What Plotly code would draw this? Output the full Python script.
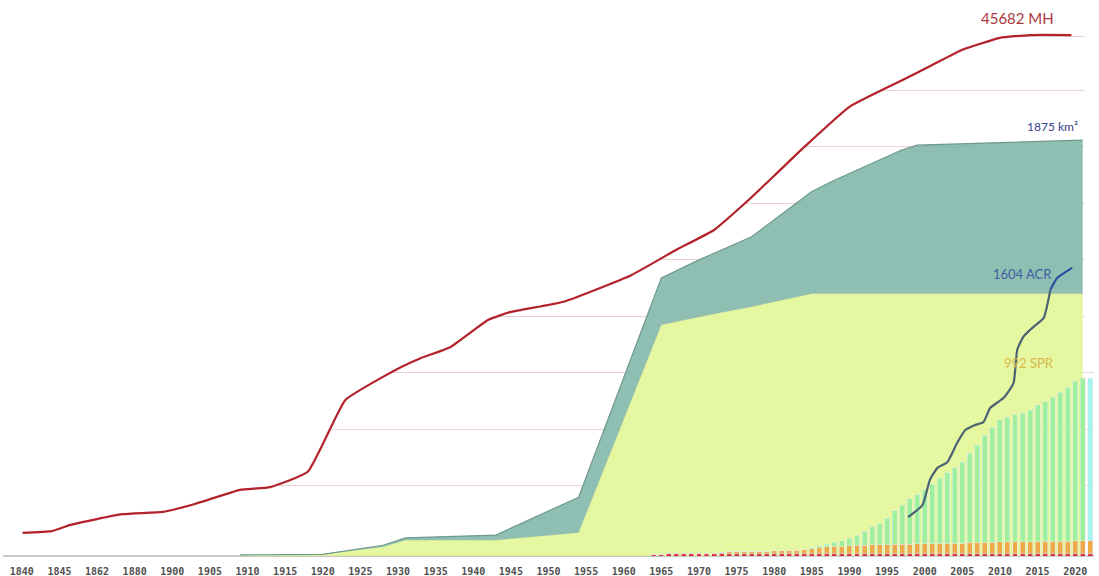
import numpy as np
import plotly.graph_objects as go

# x axis labels (evenly spaced, irregular years at the start)
TICK_YEARS = [1840, 1845, 1862, 1880, 1900, 1905, 1910, 1915, 1920, 1925, 1930,
              1935, 1940, 1945, 1950, 1955, 1960, 1965, 1970, 1975, 1980, 1985,
              1990, 1995, 2000, 2005, 2010, 2015, 2020]
TICK_LABELS = [str(y) for y in TICK_YEARS]

# MH curve (red)
MH_YEARS = [1840, 1844, 1850, 1874, 1895, 1903, 1909, 1913, 1918, 1923, 1928,
            1930.5, 1933, 1937, 1942, 1945, 1952, 1961, 1967, 1972, 1976, 1980,
            1984, 1990, 1997, 2001, 2005, 2010, 2014, 2019.5]
MH_VALUES = [4.1, 4.4, 5.5, 7.4, 7.8, 9.2, 11.7, 12.2, 14.9, 27.6, 31.7,
             33.5, 35.0, 37.0, 41.8, 43.2, 45.0, 49.7, 54.2, 57.7, 62.3, 67.3,
             72.4, 79.5, 84.2, 86.9, 89.6, 91.7, 92.2, 92.2]

# km2 area (teal) and inner area (yellow)
AREA_YEARS = [1909, 1920, 1928, 1931, 1943, 1954, 1965, 1970, 1977, 1985, 1988,
              1997, 1999, 2021]
KM2_VALUES = [0.2, 0.3, 1.9, 3.2, 3.7, 10.4, 49.2, 52.4, 56.5, 64.5, 66.5,
              71.9, 72.7, 73.6]
INNER_VALUES = [0.2, 0.3, 1.6, 2.8, 2.8, 4.1, 40.9, 42.3, 44.1, 46.4, 46.4,
                46.4, 46.4, 46.4]

# ACR line (blue)
ACR_YEARS = [1997.8, 1999.7, 2000.7, 2001.7, 2003.0, 2004.3, 2005.4, 2006.7,
             2007.8, 2008.7, 2010.5, 2011.8, 2012.3, 2013.1, 2014.4, 2015.8,
             2016.7, 2017.6, 2019.6]
ACR_VALUES = [6.9, 9.0, 13.5, 15.6, 16.6, 20.0, 22.3, 23.2, 23.7, 26.2, 28.0,
              30.6, 36.5, 38.8, 40.5, 42.1, 47.1, 49.2, 51.0]

# yearly SPR bars, stacked: red base, orange, green
BAR_YEARS = list(range(1964, 2023))
RED_VALUES = [0.3, 0.3, 0.5, 0.5, 0.5, 0.5, 0.5, 0.5, 0.5, 0.5, 0.5, 0.5, 0.5,
              0.5, 0.5, 0.5, 0.5, 0.5, 0.5, 0.5, 0.5, 0.5, 0.5, 0.5, 0.5, 0.5,
              0.5, 0.5, 0.5, 0.5, 0.5, 0.5, 0.5, 0.5, 0.5, 0.5, 0.5, 0.5, 0.5,
              0.5, 0.5, 0.5, 0.5, 0.5, 0.5, 0.5, 0.5, 0.5, 0.5, 0.5, 0.5, 0.5,
              0.5, 0.5, 0.5, 0.5, 0.5, 0.5, 0.5]
ORANGE_VALUES = [0, 0, 0, 0, 0, 0, 0, 0, 0,
                 0.2, 0.3, 0.3, 0.3, 0.3, 0.3, 0.3,
                 0.4, 0.4, 0.5, 0.5, 0.6,
                 0.8,
                 1.0, 1.1, 1.2, 1.2,
                 1.3, 1.4, 1.4, 1.5, 1.5, 1.5, 1.6, 1.6, 1.6, 1.7,
                 1.7, 1.7, 1.8, 1.8, 1.8, 1.8, 1.9, 1.9, 1.9, 1.9,
                 2.0, 2.0, 2.0, 2.0, 2.0, 2.1, 2.1, 2.1, 2.1, 2.1, 2.2, 2.2, 2.2]
GREEN_VALUES = [0, 0, 0, 0, 0, 0, 0, 0, 0, 0, 0, 0, 0, 0, 0, 0, 0, 0, 0, 0, 0,
                0.2, 0.3,
                0.5, 0.7, 1.0, 1.3, 1.8, 2.5, 3.2, 3.7, 4.7, 5.9, 6.9, 8.0,
                8.6, 9.5, 10.5, 11.5, 12.4, 13.3, 14.3, 15.8, 17.2, 19.0, 20.4,
                21.6, 22.1, 22.5, 22.8, 23.3, 24.2, 24.7, 25.5, 26.4, 27.3,
                28.2, 28.8, 28.8]

Y_TOP = 98.4
GRID_LEVELS = [12.4, 22.4, 32.4, 42.4, 52.4, 62.3, 72.4, 82.3, 91.9]


def to_pos(years):
    years = np.asarray(years, dtype=float)
    pos = np.interp(years, TICK_YEARS, np.arange(len(TICK_YEARS)))
    beyond = years > TICK_YEARS[-1]
    pos[beyond] = len(TICK_YEARS) - 1 + (years[beyond] - TICK_YEARS[-1]) / 5
    return pos


mh_x = to_pos(MH_YEARS)
area_x = to_pos(AREA_YEARS)
acr_x = to_pos(ACR_YEARS)
bar_x = to_pos(BAR_YEARS)

fig = go.Figure()

# white cover above the red curve hides the gridlines there
fig.add_trace(go.Scatter(x=mh_x, y=[Y_TOP] * len(mh_x), mode="lines",
                         line=dict(width=0), hoverinfo="skip", showlegend=False))
fig.add_trace(go.Scatter(x=mh_x, y=MH_VALUES, mode="lines", fill="tonexty",
                         fillcolor="white",
                         line=dict(color="#b3222a", width=2.2, shape="spline", smoothing=0.4),
                         name="MH", showlegend=False))

fig.add_trace(go.Scatter(x=area_x, y=INNER_VALUES, mode="lines", fill="tozeroy",
                         fillcolor="rgba(225,246,144,0.85)",
                         line=dict(color="rgba(190,215,120,0.6)", width=0.5),
                         showlegend=False))
fig.add_trace(go.Scatter(x=area_x, y=KM2_VALUES, mode="lines", fill="tonexty",
                         fillcolor="rgba(123,179,164,0.85)",
                         line=dict(color="#6e998e", width=1.2),
                         name="km²", showlegend=False))

bar_colors = ["#9ff09c"] * (len(BAR_YEARS) - 1) + ["#a8f2ee"]
fig.add_trace(go.Bar(x=bar_x, y=RED_VALUES, marker_color="#d93838",
                     xaxis="x", yaxis="y2", showlegend=False))
fig.add_trace(go.Bar(x=bar_x, y=ORANGE_VALUES, marker_color="#eeaa48",
                     xaxis="x", yaxis="y2", showlegend=False))
fig.add_trace(go.Bar(x=bar_x, y=GREEN_VALUES, marker_color=bar_colors,
                     xaxis="x", yaxis="y2", showlegend=False))

split = 16
fig.add_trace(go.Scatter(x=acr_x[:split + 1], y=ACR_VALUES[:split + 1], mode="lines",
                         line=dict(color="#4b6272", width=2.2, shape="spline", smoothing=0.5),
                         xaxis="x", yaxis="y2", showlegend=False))
fig.add_trace(go.Scatter(x=acr_x[split:], y=ACR_VALUES[split:], mode="lines",
                         line=dict(color="#2b4ca0", width=2.2, shape="spline", smoothing=0.5),
                         xaxis="x", yaxis="y2", showlegend=False))

label_font = "Lato, Open Sans, sans-serif"
fig.add_annotation(x=mh_x[-1], y=MH_VALUES[-1], text="45682 MH", showarrow=False,
                   xshift=-54, yshift=17,
                   font=dict(family=label_font, size=15, color="#a8393d"))
fig.add_annotation(x=area_x[-1], y=KM2_VALUES[-1], text="1875 km²", showarrow=False,
                   xshift=-30, yshift=14,
                   font=dict(family=label_font, size=12, color="#33408a"))
fig.add_annotation(x=acr_x[-1], y=ACR_VALUES[-1], text="1604 ACR", showarrow=False,
                   xshift=-50, yshift=-6,
                   font=dict(family=label_font, size=13, color="#3f5fa3"))
fig.add_annotation(x=bar_x[-1], y=RED_VALUES[-1] + ORANGE_VALUES[-1] + GREEN_VALUES[-1],
                   text="992 SPR", showarrow=False, xshift=-61, yshift=15,
                   font=dict(family=label_font, size=13, color="#d8b84a"))

# blank strips at both ends so the gridlines start/stop at the data
fig.add_shape(type="rect", xref="x", yref="y", x0=-0.5, x1=0.02, y0=1, y1=Y_TOP,
              fillcolor="white", line_width=0, layer="above")
fig.add_shape(type="rect", xref="x", yref="y", x0=28.25, x1=28.5, y0=33, y1=Y_TOP,
              fillcolor="white", line_width=0, layer="above")

fig.update_layout(
    width=1099,
    height=576,
    margin=dict(l=3, r=5, t=0, b=20),
    paper_bgcolor="white",
    plot_bgcolor="white",
    barmode="stack",
    bargap=0.34,
    showlegend=False,
    xaxis=dict(
        range=[-0.5, 28.5],
        tickvals=list(range(len(TICK_LABELS))),
        ticktext=TICK_LABELS,
        showgrid=False,
        zeroline=False,
        ticks="outside",
        ticklen=6,
        tickcolor="rgba(0,0,0,0)",
        tickfont=dict(family="DejaVu Sans Mono", size=10, color="#505050",
                      weight="bold"),
    ),
    yaxis=dict(
        range=[0, Y_TOP],
        tickvals=GRID_LEVELS,
        showticklabels=False,
        gridcolor="#ecd2d2",
        gridwidth=1,
        zeroline=True,
        zerolinecolor="#c8c8c8",
        zerolinewidth=1.5,
    ),
    yaxis2=dict(
        range=[0, Y_TOP],
        overlaying="y",
        visible=False,
    ),
)

fig.write_html("out.html", config={"displayModeBar": False},
               post_script="document.body.style.margin = '0';")
